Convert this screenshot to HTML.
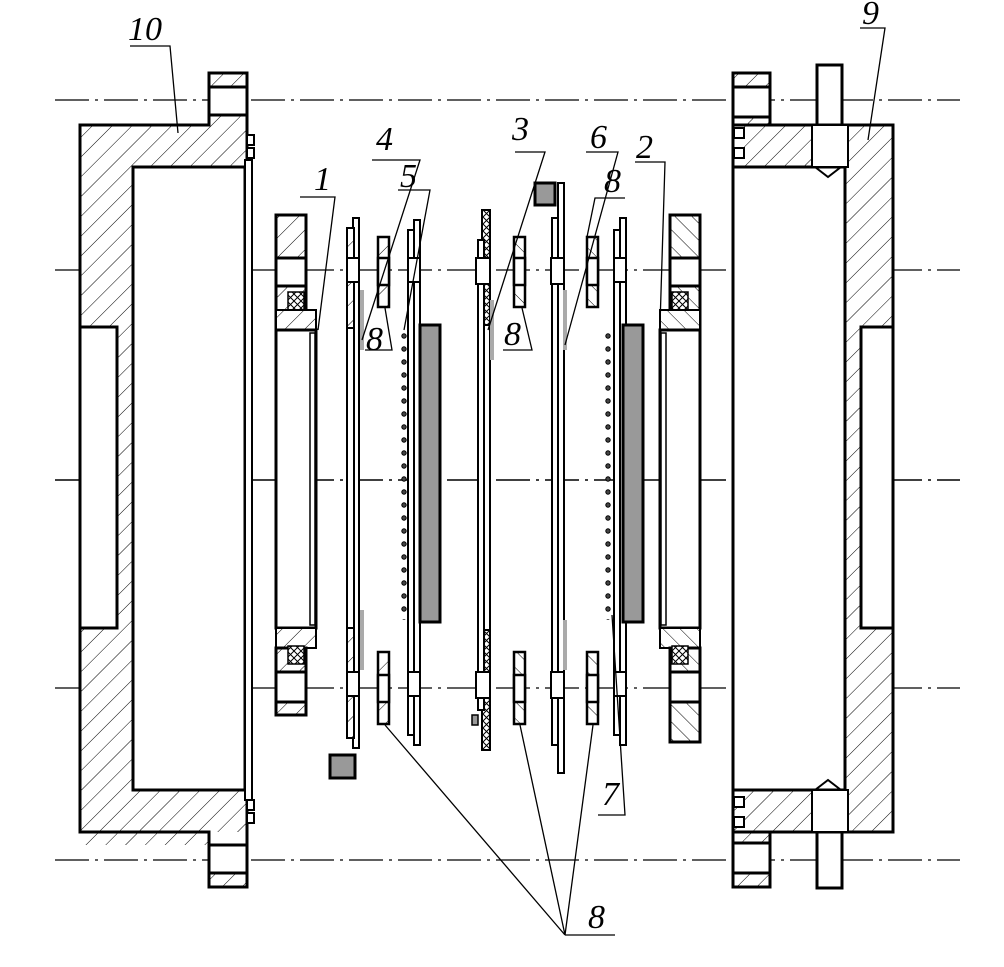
<!DOCTYPE html>
<html><head><meta charset="utf-8"><style>
html,body{margin:0;padding:0;background:#fff}
svg{display:block}
text{font-family:"Liberation Serif",serif;font-style:italic;font-size:34px;fill:#000}
</style></head><body>
<svg width="1004" height="967" viewBox="0 0 1004 967" xmlns="http://www.w3.org/2000/svg">
<defs>
<pattern id="h" width="14" height="14" patternUnits="userSpaceOnUse" patternTransform="rotate(45)">
<rect width="14" height="14" fill="#fff"/><line x1="0" y1="0" x2="0" y2="14" stroke="#000" stroke-width="1"/></pattern>
<pattern id="hb" width="12" height="12" patternUnits="userSpaceOnUse" patternTransform="rotate(-45)">
<rect width="12" height="12" fill="#fff"/><line x1="0" y1="0" x2="0" y2="12" stroke="#000" stroke-width="1"/></pattern>
<pattern id="x" width="7" height="7" patternUnits="userSpaceOnUse">
<rect width="7" height="7" fill="#fff"/><path d="M0 0L7 7M7 0L0 7" stroke="#000" stroke-width="1"/></pattern>
<pattern id="d" width="12" height="13" patternUnits="userSpaceOnUse" x="398" y="330">
<circle cx="6" cy="6" r="2.2" fill="#444" stroke="#000" stroke-width="1"/></pattern>
</defs>
<g stroke="#000" stroke-width="1.2" stroke-dasharray="34 6 3 6" fill="none">
<line x1="55" y1="100" x2="960" y2="100"/>
<line x1="55" y1="270" x2="960" y2="270"/>
<line x1="55" y1="480" x2="960" y2="480" stroke-width="1.6"/>
<line x1="55" y1="688" x2="960" y2="688"/>
<line x1="55" y1="860" x2="960" y2="860"/>
</g>
<g stroke="#000" stroke-width="3">
<!-- left housing 10 -->
<path d="M80 125H209V115H247V832H209V845H80Z" fill="url(#h)" stroke="none"/>
<path d="M80 125H209V73H247V887H209V832H80Z" fill="none"/>
<rect x="209" y="73" width="38" height="14" fill="url(#h)"/>
<rect x="209" y="87" width="38" height="28" fill="#fff"/>
<rect x="209" y="845" width="38" height="28" fill="#fff"/>
<rect x="209" y="873" width="38" height="14" fill="url(#h)"/>
<rect x="133" y="167" width="112" height="623" fill="#fff"/>
<rect x="80" y="327" width="37" height="301" fill="#fff"/>
<rect x="245" y="160" width="7" height="640" fill="#fff" stroke-width="2"/>
<rect x="247" y="135" width="7" height="10" fill="#fff" stroke-width="2"/>
<rect x="247" y="148" width="7" height="10" fill="#fff" stroke-width="2"/>
<rect x="247" y="800" width="7" height="10" fill="#fff" stroke-width="2"/>
<rect x="247" y="813" width="7" height="10" fill="#fff" stroke-width="2"/>
<!-- right housing 9 -->
<rect x="733" y="125" width="160" height="707" fill="url(#h)"/>
<rect x="733" y="73" width="37" height="52" fill="url(#h)"/>
<rect x="733" y="87" width="37" height="30" fill="#fff"/>
<rect x="733" y="832" width="37" height="55" fill="url(#h)"/>
<rect x="733" y="843" width="37" height="30" fill="#fff"/>
<rect x="733" y="167" width="112" height="623" fill="#fff"/>
<rect x="861" y="327" width="32" height="301" fill="#fff"/>
<rect x="734" y="128" width="10" height="10" fill="#fff" stroke-width="2"/>
<rect x="734" y="148" width="10" height="10" fill="#fff" stroke-width="2"/>
<rect x="734" y="797" width="10" height="10" fill="#fff" stroke-width="2"/>
<rect x="734" y="817" width="10" height="10" fill="#fff" stroke-width="2"/>
<rect x="817" y="65" width="25" height="60" fill="#fff"/>
<rect x="812" y="125" width="36" height="42" fill="#fff" stroke-width="2"/>
<path d="M815 167L828 177L841 167" fill="none" stroke-width="2"/>
<rect x="817" y="832" width="25" height="56" fill="#fff"/>
<rect x="812" y="790" width="36" height="42" fill="#fff" stroke-width="2"/>
<path d="M815 790L828 780L841 790" fill="none" stroke-width="2"/>
<!-- ring 1 -->
<rect x="276" y="215" width="30" height="43" fill="url(#h)"/>
<rect x="276" y="258" width="30" height="28" fill="#fff"/>
<path d="M276 286H306V330H276Z" fill="url(#h)"/>
<rect x="288" y="292" width="16" height="18" fill="url(#x)" stroke-width="1.5"/>
<rect x="276" y="310" width="40" height="20" fill="url(#h)" stroke-width="2"/>
<rect x="276" y="330" width="40" height="298" fill="#fff"/>
<rect x="310" y="333" width="5" height="292" fill="#fff" stroke-width="1.5"/>
<rect x="276" y="628" width="40" height="20" fill="url(#h)" stroke-width="2"/>
<path d="M276 648H306V672H276Z" fill="url(#h)"/>
<rect x="288" y="646" width="16" height="18" fill="url(#x)" stroke-width="1.5"/>
<rect x="276" y="672" width="30" height="30" fill="#fff"/>
<rect x="276" y="702" width="30" height="13" fill="url(#h)"/>
<!-- ring 2 -->
<rect x="670" y="215" width="30" height="43" fill="url(#hb)"/>
<rect x="670" y="258" width="30" height="28" fill="#fff"/>
<rect x="670" y="286" width="30" height="44" fill="url(#hb)"/>
<rect x="672" y="292" width="16" height="18" fill="url(#x)" stroke-width="1.5"/>
<rect x="660" y="310" width="40" height="20" fill="url(#hb)" stroke-width="2"/>
<rect x="660" y="330" width="40" height="298" fill="#fff"/>
<rect x="661" y="333" width="5" height="292" fill="#fff" stroke-width="1.5"/>
<rect x="660" y="628" width="40" height="20" fill="url(#hb)" stroke-width="2"/>
<rect x="670" y="648" width="30" height="24" fill="url(#hb)"/>
<rect x="672" y="646" width="16" height="18" fill="url(#x)" stroke-width="1.5"/>
<rect x="670" y="672" width="30" height="30" fill="#fff"/>
<rect x="670" y="702" width="30" height="40" fill="url(#hb)"/>
<!-- plate 4 -->
<rect x="353" y="218" width="6" height="530" fill="#fff" stroke-width="2"/>
<rect x="347" y="228" width="7" height="100" fill="url(#h)" stroke-width="2"/>
<rect x="347" y="628" width="7" height="110" fill="url(#h)" stroke-width="2"/>
<rect x="347" y="328" width="7" height="300" fill="#fff" stroke-width="2"/>
<rect x="347" y="258" width="12" height="24" fill="#fff" stroke-width="2"/>
<rect x="347" y="672" width="12" height="24" fill="#fff" stroke-width="2"/>
<rect x="330" y="755" width="25" height="23" fill="#999"/>
<!-- plate 5 -->
<rect x="408" y="230" width="6" height="505" fill="#fff" stroke-width="2"/>
<rect x="414" y="220" width="6" height="525" fill="#fff" stroke-width="2"/>
<rect x="408" y="258" width="12" height="24" fill="#fff" stroke-width="2"/>
<rect x="408" y="672" width="12" height="24" fill="#fff" stroke-width="2"/>
<rect x="420" y="325" width="20" height="297" fill="#999"/>
<!-- plate 3 -->
<rect x="482" y="210" width="8" height="540" fill="#fff" stroke-width="2"/>
<rect x="482" y="210" width="8" height="115" fill="url(#x)" stroke-width="2"/>
<rect x="482" y="630" width="8" height="120" fill="url(#x)" stroke-width="2"/>
<rect x="478" y="240" width="6" height="470" fill="#fff" stroke-width="2"/>
<rect x="476" y="258" width="14" height="26" fill="#fff" stroke-width="2"/>
<rect x="476" y="672" width="14" height="26" fill="#fff" stroke-width="2"/>
<rect x="472" y="715" width="6" height="10" fill="#999" stroke-width="1.5"/>
<!-- plate 6 -->
<rect x="558" y="183" width="6" height="590" fill="#fff" stroke-width="2"/>
<rect x="552" y="218" width="6" height="527" fill="#fff" stroke-width="2"/>
<rect x="551" y="258" width="13" height="26" fill="#fff" stroke-width="2"/>
<rect x="551" y="672" width="13" height="26" fill="#fff" stroke-width="2"/>
<rect x="535" y="183" width="20" height="22" fill="#999"/>
<!-- plate 7 -->
<rect x="614" y="230" width="6" height="505" fill="#fff" stroke-width="2"/>
<rect x="620" y="218" width="6" height="527" fill="#fff" stroke-width="2"/>
<rect x="614" y="258" width="12" height="24" fill="#fff" stroke-width="2"/>
<rect x="614" y="672" width="12" height="24" fill="#fff" stroke-width="2"/>
<rect x="623" y="325" width="20" height="297" fill="#999"/>
<!-- washers 8 -->
<g stroke-width="2.5">
<rect x="378" y="237" width="11" height="70" fill="url(#h)"/><rect x="378" y="258" width="11" height="27" fill="#fff"/>
<rect x="378" y="652" width="11" height="72" fill="url(#h)"/><rect x="378" y="675" width="11" height="27" fill="#fff"/>
<rect x="514" y="237" width="11" height="70" fill="url(#hb)"/><rect x="514" y="258" width="11" height="27" fill="#fff"/>
<rect x="514" y="652" width="11" height="72" fill="url(#hb)"/><rect x="514" y="675" width="11" height="27" fill="#fff"/>
<rect x="587" y="237" width="11" height="70" fill="url(#hb)"/><rect x="587" y="258" width="11" height="27" fill="#fff"/>
<rect x="587" y="652" width="11" height="72" fill="url(#hb)"/><rect x="587" y="675" width="11" height="27" fill="#fff"/>
</g>
</g>
<rect x="398" y="330" width="12" height="290" fill="url(#d)"/>
<rect x="604" y="330" width="12" height="290" fill="url(#d)"/>
<g fill="#aaa"><rect x="360" y="290" width="4" height="60"/><rect x="490" y="300" width="4" height="60"/><rect x="563" y="290" width="4" height="60"/><rect x="360" y="610" width="4" height="60"/><rect x="563" y="620" width="4" height="50"/></g>
<!-- leaders -->
<g stroke="#000" stroke-width="1.3" fill="none">
<path d="M130 46H170L178 133"/>
<path d="M860 28H885L868 140"/>
<path d="M300 197H335L318 330"/>
<path d="M372 160H420L362 340"/>
<path d="M398 190H430L404 330"/>
<path d="M515 152H545L488 330"/>
<path d="M586 152H618L565 345"/>
<path d="M635 162H665L660 325"/>
<path d="M625 198H595L587 237"/>
<path d="M365 350H392L385 308"/>
<path d="M503 350H532L522 308"/>
<path d="M598 815H625L612 615"/>
<path d="M565 935H615"/>
<path d="M565 935L385 725M565 935L520 725M565 935L593 725"/>
</g>
<text x="128" y="40">10</text>
<text x="862" y="24">9</text>
<text x="314" y="190">1</text>
<text x="376" y="150">4</text>
<text x="400" y="187">5</text>
<text x="512" y="140">3</text>
<text x="590" y="148">6</text>
<text x="636" y="158">2</text>
<text x="604" y="192">8</text>
<text x="366" y="350">8</text>
<text x="504" y="345">8</text>
<text x="602" y="805">7</text>
<text x="588" y="928">8</text>
</svg>
</body></html>
